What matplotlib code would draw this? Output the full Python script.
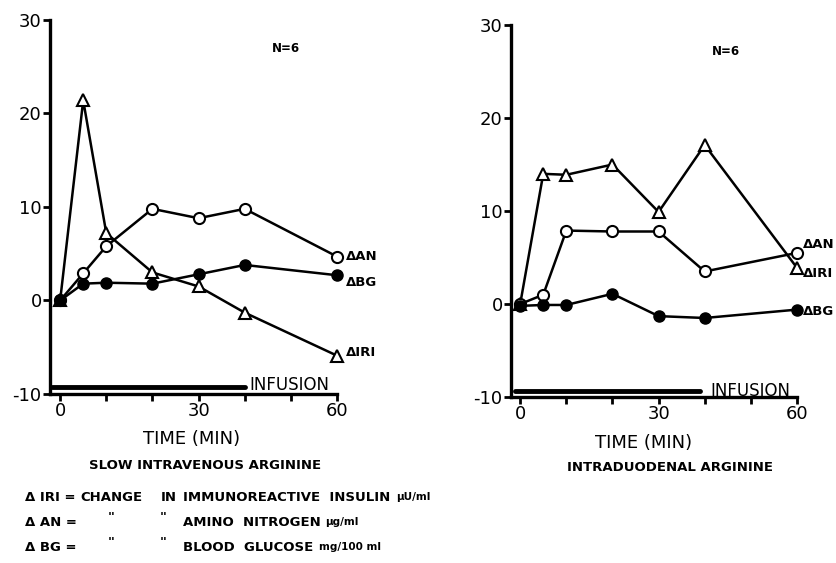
import matplotlib
matplotlib.use("Agg")
import matplotlib.pyplot as plt

# time points (min)
t = [0, 5, 10, 20, 30, 40, 60]

# slow intravenous arginine
iv_iri = [0, 21.4, 7.2, 3.0, 1.5, -1.3, -5.9]
iv_an = [0, 2.9, 5.8, 9.8, 8.8, 9.8, 4.7]
iv_bg = [0, 1.8, 1.9, 1.8, 2.8, 3.8, 2.7]

# intraduodenal arginine
id_iri = [0, 14.0, 13.9, 15.0, 9.9, 17.1, 3.9]
id_an = [0, 1.0, 7.9, 7.8, 7.8, 3.5, 5.5]
id_bg = [-0.2, -0.1, -0.1, 1.1, -1.3, -1.5, -0.6]

infusion_end = 40
yticks = [-10, 0, 10, 20, 30]
xticks = [0, 10, 20, 30, 40, 50, 60]
xlabels = ["0", "", "", "30", "", "", "60"]

plt.rcParams['font.family'] = ['DejaVu Sans']

fig = plt.figure(figsize=(8.36, 5.63), dpi=100)
ax1 = fig.add_axes([0.0598, 0.3002, 0.3433, 0.6643])
ax2 = fig.add_axes([0.6112, 0.2948, 0.3421, 0.6607])


def style_axis(ax, xmin):
    ax.set_xlim(xmin, 60)
    ax.set_ylim(-10, 30)
    for s in ['top', 'right']:
        ax.spines[s].set_visible(False)
    for s in ['left', 'bottom']:
        ax.spines[s].set_linewidth(2.4)
    ax.spines['bottom'].set_bounds(xmin, 60)
    ax.set_yticks(yticks)
    ax.set_yticklabels(["-10", "0", "10", "20", "30"])
    ax.set_xticks(xticks)
    ax.set_xticklabels(xlabels)
    ax.tick_params(axis='both', direction='out', length=5, width=2,
                   labelsize=13, pad=1)
    ax.patch.set_visible(False)


def draw_panel(ax, iri, an, bg, xmin):
    style_axis(ax, xmin)
    kw = dict(color='black', lw=1.8, clip_on=False, zorder=3)
    ax.plot(t, iri, marker='^', ms=8, mfc='white', mec='black', mew=1.5, **kw)
    ax.plot(t, an, marker='o', ms=8, mfc='white', mec='black', mew=1.5, **kw)
    ax.plot(t, bg, marker='o', ms=8, mfc='black', mec='black', **kw)


draw_panel(ax1, iv_iri, iv_an, iv_bg, -2.2)
draw_panel(ax2, id_iri, id_an, id_bg, -2.0)

# infusion bars
ax1.plot([-1.8, infusion_end], [-9.3, -9.3], color='black', lw=3.5,
         solid_capstyle='round', clip_on=False)
ax2.plot([-1.2, infusion_end - 1], [-9.4, -9.4], color='black', lw=3.5,
         solid_capstyle='round', clip_on=False)
ax1.text(41, -9.0, "INFUSION", fontsize=12, va='center', ha='left')
ax2.text(41.2, -9.35, "INFUSION", fontsize=12, va='center', ha='left')

# N = 6
ax1.text(49, 27, "N=6", fontsize=8.5, fontweight='bold', ha='center', va='center')
ax2.text(44.5, 27.2, "N=6", fontsize=8.5, fontweight='bold', ha='center', va='center')

# curve labels
lab = dict(fontsize=9.5, fontweight='bold', va='center', ha='left', clip_on=False)
ax1.text(62, 4.7, "ΔAN", **lab)
ax1.text(62, 1.9, "ΔBG", **lab)
ax1.text(62, -5.6, "ΔIRI", **lab)
ax2.text(61.4, 6.4, "ΔAN", **lab)
ax2.text(61.4, 3.3, "ΔIRI", **lab)
ax2.text(61.4, -0.75, "ΔBG", **lab)

# axis titles and captions
fig.text(192 / 836, 0.2202, "TIME (MIN)", fontsize=13, ha='center', va='center')
fig.text(205 / 836, 0.174, "SLOW INTRAVENOUS ARGININE", fontsize=9.5,
         fontweight='bold', ha='center', va='center')
fig.text(644 / 836, 0.213, "TIME (MIN)", fontsize=13, ha='center', va='center')
fig.text(670 / 836, 0.169, "INTRADUODENAL ARGININE", fontsize=9.5,
         fontweight='bold', ha='center', va='center')

# legend
leg = dict(fontsize=9.5, fontweight='bold', ha='left', va='center')
rows = [0.1172, 0.0728, 0.0284]
fig.text(25 / 836, rows[0], "Δ IRI =", **leg)
fig.text(80 / 836, rows[0], "CHANGE", **leg)
fig.text(161 / 836, rows[0], "IN", **leg)
fig.text(183 / 836, rows[0], "IMMUNOREACTIVE  INSULIN", **leg)
fig.text(25 / 836, rows[1], "Δ AN =", **leg)
fig.text(25 / 836, rows[2], "Δ BG =", **leg)
for r in rows[1:]:
    fig.text(108 / 836, r + 0.008, '"', **leg)
    fig.text(160 / 836, r + 0.008, '"', **leg)
fig.text(183 / 836, rows[1], "AMINO  NITROGEN", **leg)
fig.text(183 / 836, rows[2], "BLOOD  GLUCOSE", **leg)
fig.text(396 / 836, rows[0], "μU/ml", fontsize=7.5, fontweight='bold',
         ha='left', va='center')
fig.text(325 / 836, rows[1], "μg/ml", fontsize=7.5, fontweight='bold',
         ha='left', va='center')
fig.text(319 / 836, rows[2], "mg/100 ml", fontsize=7.5, fontweight='bold',
         ha='left', va='center')

fig.savefig("out.png", dpi=100)
